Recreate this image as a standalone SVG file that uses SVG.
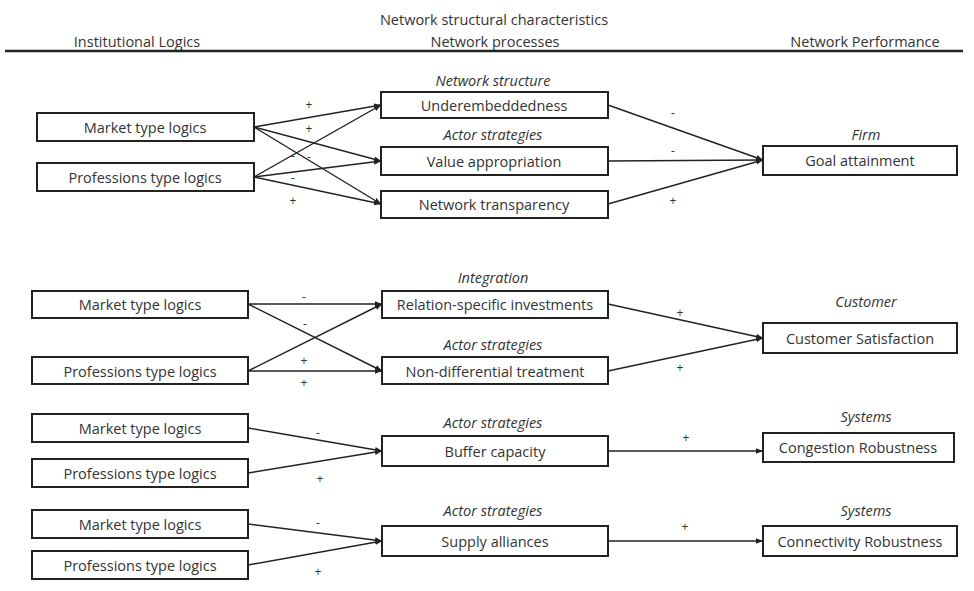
<svg xmlns="http://www.w3.org/2000/svg" width="974" height="591" viewBox="0 0 974 591">
  <defs>
    <marker id="ah" viewBox="0 0 10 10" refX="10" refY="5" markerWidth="7" markerHeight="7" orient="auto" markerUnits="userSpaceOnUse">
      <path d="M0,1 L10,5 L0,9 z" fill="#222"/>
    </marker>
    <style>
      .box rect { fill: #fff; stroke: #222; stroke-width: 2; }
      .t { font-family: "Open Sans", "Liberation Sans", sans-serif; font-size: 14.5px; fill: #333; text-anchor: middle; dominant-baseline: central; }
      .i { font-style: italic; }
      .s { font-family: "Open Sans", "Liberation Sans", sans-serif; font-size: 12px; fill: #333; text-anchor: middle; dominant-baseline: central; }
      #connectors line { stroke: #222; stroke-width: 1.4; marker-end: url(#ah); }
    </style>
  </defs>
  <rect width="974" height="591" fill="#fff"/>

  <!-- column headings -->
  <g id="header">
    <text class="t" x="494" y="19">Network structural characteristics</text>
    <text class="t" x="137" y="41">Institutional Logics</text>
    <text class="t" x="495" y="41">Network processes</text>
    <text class="t" x="865" y="41">Network Performance</text>
    <line x1="5" y1="51" x2="963" y2="51" stroke="#222" stroke-width="2.5"/>
  </g>

  <!-- group labels -->
  <g id="labels">
    <text class="t i" x="493" y="80">Network structure</text>
    <text class="t i" x="493" y="134">Actor strategies</text>
    <text class="t i" x="866" y="134">Firm</text>
    <text class="t i" x="493" y="277">Integration</text>
    <text class="t i" x="493" y="344">Actor strategies</text>
    <text class="t i" x="866" y="301">Customer</text>
    <text class="t i" x="493" y="422">Actor strategies</text>
    <text class="t i" x="866" y="416">Systems</text>
    <text class="t i" x="493" y="510">Actor strategies</text>
    <text class="t i" x="866" y="510">Systems</text>
  </g>

  <!-- block 1 -->
  <g id="market1" class="box"><rect x="37" y="113" width="217" height="28"/><text class="t" x="145" y="127">Market type logics</text></g>
  <g id="prof1" class="box"><rect x="37" y="163" width="217" height="28"/><text class="t" x="145" y="177">Professions type logics</text></g>
  <g id="underemb" class="box"><rect x="381" y="92" width="227" height="26"/><text class="t" x="494" y="105">Underembeddedness</text></g>
  <g id="valueapp" class="box"><rect x="381" y="147" width="227" height="28"/><text class="t" x="494" y="161">Value appropriation</text></g>
  <g id="transp" class="box"><rect x="381" y="191" width="227" height="27"/><text class="t" x="494" y="204">Network transparency</text></g>
  <g id="goal" class="box"><rect x="763" y="146" width="194" height="29"/><text class="t" x="860" y="160">Goal attainment</text></g>

  <!-- block 2 -->
  <g id="market2" class="box"><rect x="32" y="291" width="216" height="27"/><text class="t" x="140" y="304">Market type logics</text></g>
  <g id="prof2" class="box"><rect x="32" y="357" width="216" height="27"/><text class="t" x="140" y="371">Professions type logics</text></g>
  <g id="relinv" class="box"><rect x="382" y="291" width="226" height="27"/><text class="t" x="495" y="304">Relation-specific investments</text></g>
  <g id="nondiff" class="box"><rect x="382" y="357" width="226" height="27"/><text class="t" x="495" y="371">Non-differential treatment</text></g>
  <g id="custsat" class="box"><rect x="763" y="323" width="194" height="30"/><text class="t" x="860" y="338">Customer Satisfaction</text></g>

  <!-- block 3 -->
  <g id="market3" class="box"><rect x="32" y="414" width="216" height="28"/><text class="t" x="140" y="428">Market type logics</text></g>
  <g id="prof3" class="box"><rect x="32" y="459" width="216" height="28"/><text class="t" x="140" y="473">Professions type logics</text></g>
  <g id="buffer" class="box"><rect x="382" y="436" width="226" height="30"/><text class="t" x="495" y="451">Buffer capacity</text></g>
  <g id="congest" class="box"><rect x="763" y="433" width="191" height="29"/><text class="t" x="858" y="447">Congestion Robustness</text></g>

  <!-- block 4 -->
  <g id="market4" class="box"><rect x="32" y="510" width="216" height="28"/><text class="t" x="140" y="524">Market type logics</text></g>
  <g id="prof4" class="box"><rect x="32" y="551" width="216" height="28"/><text class="t" x="140" y="565">Professions type logics</text></g>
  <g id="supply" class="box"><rect x="382" y="526" width="226" height="30"/><text class="t" x="495" y="541">Supply alliances</text></g>
  <g id="connect" class="box"><rect x="763" y="526" width="194" height="30"/><text class="t" x="860" y="541">Connectivity Robustness</text></g>

  <!-- connectors -->
  <g id="connectors">
    <line x1="254" y1="127" x2="381" y2="105"/>
    <line x1="254" y1="127" x2="381" y2="161"/>
    <line x1="254" y1="127" x2="381" y2="204"/>
    <line x1="254" y1="177" x2="381" y2="105"/>
    <line x1="254" y1="177" x2="381" y2="161"/>
    <line x1="254" y1="177" x2="381" y2="204"/>
    <line x1="608" y1="105" x2="763" y2="160"/>
    <line x1="608" y1="161" x2="763" y2="160"/>
    <line x1="608" y1="204" x2="763" y2="160"/>

    <line x1="248" y1="304" x2="382" y2="304"/>
    <line x1="248" y1="304" x2="382" y2="371"/>
    <line x1="248" y1="371" x2="382" y2="304"/>
    <line x1="248" y1="371" x2="382" y2="371"/>
    <line x1="608" y1="304" x2="763" y2="338"/>
    <line x1="608" y1="371" x2="763" y2="338"/>

    <line x1="248" y1="428" x2="382" y2="451"/>
    <line x1="248" y1="473" x2="382" y2="451"/>
    <line x1="608" y1="451" x2="763" y2="451"/>

    <line x1="248" y1="524" x2="382" y2="541"/>
    <line x1="248" y1="565" x2="382" y2="541"/>
    <line x1="608" y1="541" x2="763" y2="541"/>
  </g>

  <!-- polarity signs -->
  <g id="signs">
    <text class="s" x="309" y="104">+</text>
    <text class="s" x="309" y="128">+</text>
    <text class="s" x="293" y="155">-</text>
    <text class="s" x="309" y="156">-</text>
    <text class="s" x="293" y="177">-</text>
    <text class="s" x="293" y="200">+</text>
    <text class="s" x="673" y="112">-</text>
    <text class="s" x="673" y="150">-</text>
    <text class="s" x="673" y="200">+</text>

    <text class="s" x="304" y="296">-</text>
    <text class="s" x="305" y="323">-</text>
    <text class="s" x="304" y="360">+</text>
    <text class="s" x="304" y="382">+</text>
    <text class="s" x="680" y="312">+</text>
    <text class="s" x="680" y="367">+</text>

    <text class="s" x="318" y="432">-</text>
    <text class="s" x="320" y="478">+</text>
    <text class="s" x="686" y="437">+</text>

    <text class="s" x="318" y="522">-</text>
    <text class="s" x="318" y="571">+</text>
    <text class="s" x="685" y="526">+</text>
  </g>
</svg>
